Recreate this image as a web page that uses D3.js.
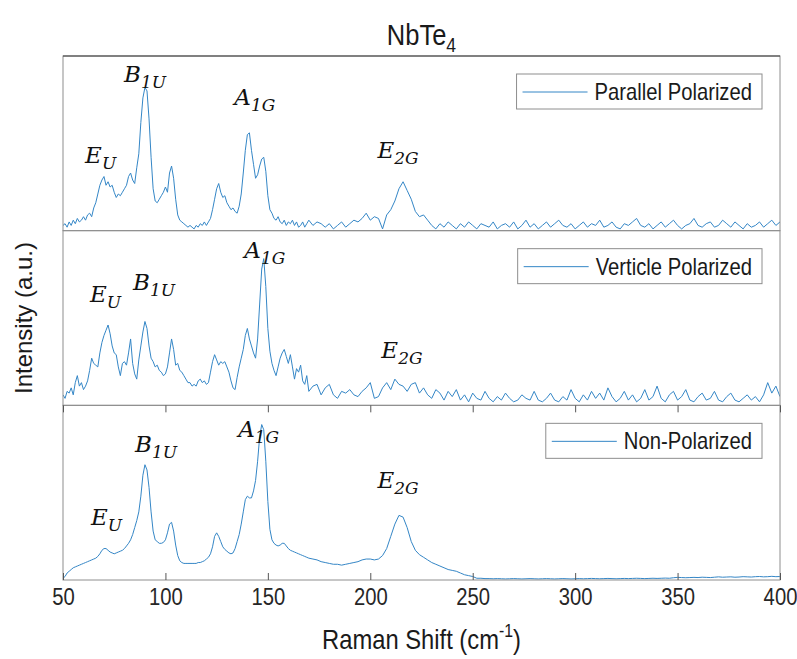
<!DOCTYPE html>
<html>
<head>
<meta charset="utf-8">
<script src="https://cdn.jsdelivr.net/npm/d3@7"></script>
<style>
  html, body { margin: 0; padding: 0; background: #ffffff; }
  svg { display: block; }
</style>
</head>
<body>
<svg id="chart" width="797" height="659"></svg>
<script>
// ---------------- DATA ----------------
const title = "NbTe";
const titleSub = "4";
const xLabel = "Raman Shift (cm";
const xLabelSup = "-1";
const yLabel = "Intensity (a.u.)";
const seriesNames = ["Parallel Polarized", "Verticle Polarized", "Non-Polarized"];
const xTicks = [50, 100, 150, 200, 250, 300, 350, 400];

// Raman shift sample positions (cm^-1)
const shift = [
  50,51,52,53,54,55,56,57,58,59,
  60,61,62,63,64,65,66,67,68,69,
  70,71,72,73,74,75,76,77,78,79,
  80,81,82,83,84,85,86,87,88,89,
  90,91,92,93,94,95,96,97,98,99,
  100,101,102,103,104,105,106,107,108,109,
  110,111,112,113,114,115,116,117,118,119,
  120,121,122,123,124,125,126,127,128,129,
  130,131,132,133,134,135,136,137,138,139,
  140,141,142,143,144,145,146,147,148,149,
  150,151,152,153,154,155,156,157,158,159,
  160,161,162,163,164,165,166,167,168,169,
  170,
  172,174,176,178,180,182,184,186,188,190,
  192,194,196,198,200,202,204,206,208,210,
  212,214,216,218,220,222,224,226,228,230,
  232,234,236,238,240,242,244,246,248,250,
  252,254,256,258,260,262,264,266,268,270,
  272,274,276,278,280,282,284,286,288,290,
  292,294,296,298,300,302,304,306,308,310,
  312,314,316,318,320,322,324,326,328,330,
  332,334,336,338,340,342,344,346,348,350,
  352,354,356,358,360,362,364,366,368,370,
  372,374,376,378,380,382,384,386,388,390,
  392,394,396,398,400
];

// Normalised intensity (% of panel height)
const parallel = [
  3,4,2,5,3,6,4,7,5,6,
  8,6,9,10,8,13,16,21,26,29,
  31,26,28,25,26,22,19,21,20,22,
  24,26,31,33,29,27,36,44,62,76,
  82,80,64,42,24,17,16,18,20,22,
  25,22,33,37,30,18,9,6,5,4,
  3,2,3,2,1,3,2,4,3,5,
  3,5,7,12,18,24,27,22,19,20,
  16,14,12,13,11,10,14,21,33,46,
  55,56,46,38,30,32,37,41,42,34,
  20,12,10,7,6,8,5,4,6,3,
  5,4,6,3,5,2,3,5,2,4,
  6,
  3,5,4,2,4,1,3,5,2,4,
  6,5,7,10,6,8,7,1,9,12,
  17,24,28,23,18,11,8,9,6,3,
  1,4,2,5,3,1,4,2,5,3,
  1,4,3,2,5,1,3,4,2,5,
  1,3,6,2,4,1,3,5,2,4,
  6,3,2,4,1,3,5,2,4,3,
  6,2,3,5,2,1,4,3,5,7,
  3,2,4,1,3,5,2,4,6,3,
  1,3,4,7,3,2,4,5,2,3,
  6,4,2,5,3,1,4,2,3,5,
  2,4,6,3,5
];

const verticle = [
  6,4,8,7,10,6,13,17,11,13,
  9,11,14,20,27,24,23,22,30,36,
  40,43,46,41,34,30,29,22,17,24,
  25,23,30,38,24,18,15,26,34,42,
  48,44,34,27,25,22,23,20,19,17,
  18,22,30,38,32,23,24,20,19,17,
  15,13,13,11,12,11,14,15,13,14,
  12,13,19,25,29,26,23,25,24,25,
  22,19,14,10,9,16,22,27,32,40,
  44,38,34,30,27,38,58,78,84,68,
  44,31,24,20,17,22,27,30,32,28,
  24,29,22,15,21,19,23,14,12,17,
  8,
  11,12,6,10,12,6,4,8,7,9,
  6,5,8,10,13,4,5,10,13,9,
  15,12,11,8,12,13,7,10,6,4,
  9,7,3,8,5,9,3,6,2,7,
  4,3,8,4,2,5,3,7,4,2,
  3,6,4,3,8,3,2,4,7,3,
  2,5,3,9,4,2,6,3,8,4,
  7,3,10,5,2,4,8,3,6,2,
  4,9,3,5,11,4,2,6,8,3,
  5,9,3,2,5,7,3,4,8,3,
  2,5,7,3,2,4,6,3,5,2,
  6,13,7,11,5
];

const nonPolarized = [
  1,2,4,5,6,7,7.5,8,8.5,9,
  9.5,10,10.5,11,11.5,12,12.5,13.5,15,17,
  18,18,17,16,15.5,15,15.5,16,16.5,17,
  18,19.5,21,23,26,30,34,39,48,60,
  66,63,53,39,28,23,22,21,21,21.5,
  23,27,32,33,28,20,14,11,10,9.5,
  9.5,9.5,9.5,9.5,9.5,9.5,10,10,10.5,11,
  12,13,15,19,25,27,25,22,19,17.5,
  16.5,15.5,15,15.5,18,22,26,32,39,46,
  48,47,47,51,57,68,82,89,86,68,
  45,29,23,21,20,19.5,20,21,21,19.5,
  18,17,16.5,16,15.5,15,14.5,14,13.5,13,
  12.5,
  12,11.5,10.5,10,9.5,9,9,8.5,9,9.5,
  10,10.5,11.5,12,12,11.5,12,14,18,25,
  32,37,36,30,22,17,14.5,13,11.5,10,
  9,8,7,6,5.5,5,4,3,2.5,2,
  1,1,0.8,0.8,0.7,0.8,0.7,0.6,0.7,0.8,
  0.7,0.6,0.7,0.8,0.7,0.6,0.7,0.8,0.7,0.6,
  0.7,0.8,0.7,0.6,0.7,0.8,0.7,0.8,0.9,0.8,
  0.7,0.8,0.9,0.8,0.7,0.8,0.9,0.8,0.9,1.0,
  0.9,0.8,0.9,1.0,0.9,1.0,1.1,1.0,1.3,1.5,
  1.4,1.3,1.4,1.5,1.4,1.6,1.5,1.4,1.6,1.8,
  1.6,1.7,1.8,1.6,1.7,1.9,1.8,1.7,1.9,2.0,
  1.8,1.9,2.1,1.9,2.0
];

// Peak-mode labels: [main letter, subscript, shift, level %]
const parallelPeaks = [["E","U",60.8,38.9],["B","1U",79.8,85.1],["A","1G",133.6,72],["E","2G",203.5,41.7]];
const verticlePeaks = [["E","U",63.2,59.2],["B","1U",84.2,66.1],["A","1G",138.5,84.5],["E","2G",205.4,27]];
const nonPolarizedPeaks = [["E","U",63.7,31.4],["B","1U",85.2,73.1],["A","1G",135.5,81.7],["E","2G",203.5,52.6]];

// ---------------- LAYOUT ----------------
const plotLeft = 63, plotRight = 780, plotTop = 56, plotBottom = 580;
const lineColor = "#3486c6";
const sans = "'Liberation Sans', Arial, Helvetica, sans-serif";
const serif = "'DejaVu Serif', 'Liberation Serif', serif";
const squeeze = 0.88;

const svg = d3.select("#chart");

const x = d3.scaleLinear().domain([50, 400]).range([plotLeft, plotRight]);
const band = d3.scaleBand().domain(seriesNames).range([plotTop, plotBottom]).paddingInner(0).paddingOuter(0);

const panels = [
  { name: seriesNames[0], values: parallel, peaks: parallelPeaks },
  { name: seriesNames[1], values: verticle, peaks: verticlePeaks },
  { name: seriesNames[2], values: nonPolarized, peaks: nonPolarizedPeaks }
];

panels.forEach((p, i) => {
  const y0 = band(p.name), h = band.bandwidth();
  const y = d3.scaleLinear().domain([0, 100]).range([y0 + h, y0]);
  const g = svg.append("g");

  const clipId = "clip" + i;
  svg.append("clipPath").attr("id", clipId)
    .append("rect").attr("x", plotLeft).attr("y", y0).attr("width", plotRight - plotLeft).attr("height", h);

  const line = d3.line().x((d, k) => x(shift[k])).y(d => y(d));
  g.append("path")
    .datum(p.values)
    .attr("clip-path", `url(#${clipId})`)
    .attr("fill", "none")
    .attr("stroke", lineColor)
    .attr("stroke-width", 1)
    .attr("stroke-linejoin", "round")
    .attr("d", line);

  // peak labels
  p.peaks.forEach(pk => {
    const t = g.append("text")
      .attr("x", x(pk[2])).attr("y", y(pk[3]))
      .attr("font-family", serif).attr("font-style", "italic")
      .attr("font-size", 23).attr("fill", "#111");
    t.append("tspan").text(pk[0]);
    t.append("tspan").attr("font-size", 17).attr("dy", 6).text(pk[1]);
  });

  // frame
  g.append("rect")
    .attr("x", plotLeft).attr("y", y0).attr("width", plotRight - plotLeft).attr("height", h)
    .attr("fill", "none").attr("stroke", "#8e8e8e").attr("stroke-width", 1);

  // legend
  const lg = g.append("g");
  const boxTop = y0 + 18, boxH = 35, boxRight = 762;
  const txt = lg.append("text")
    .attr("font-family", sans).attr("font-size", 23).attr("fill", "#1a1a1a")
    .attr("text-anchor", "end")
    .attr("transform", `translate(${boxRight - 10},${boxTop + 26}) scale(${squeeze},1)`)
    .text(p.name);
  const tw = txt.node().getComputedTextLength() * squeeze;
  const lineEnd = boxRight - 10 - tw - 7;
  const lineStart = lineEnd - 65;
  lg.insert("rect", "text")
    .attr("x", lineStart - 6).attr("y", boxTop).attr("width", boxRight - (lineStart - 6)).attr("height", boxH)
    .attr("fill", "#fff").attr("stroke", "#8e8e8e").attr("stroke-width", 1);
  lg.append("line")
    .attr("x1", lineStart).attr("x2", lineEnd)
    .attr("y1", boxTop + 18).attr("y2", boxTop + 18)
    .attr("stroke", lineColor).attr("stroke-width", 1);
});

// top frame line darker
svg.append("line").attr("x1", plotLeft).attr("x2", plotRight).attr("y1", plotTop).attr("y2", plotTop)
  .attr("stroke", "#3a3a3a").attr("stroke-width", 1);

// x axis (bottom panel)
const axB = svg.append("g").attr("transform", `translate(0,${plotBottom})`)
  .call(d3.axisBottom(x).tickValues(xTicks).tickSizeInner(-7).tickSizeOuter(0).tickPadding(9).tickFormat(d3.format("d")));
axB.select(".domain").remove();
axB.selectAll("line").attr("stroke", "#555");
axB.selectAll("text")
  .attr("font-family", sans).attr("font-size", 23).attr("fill", "#262626")
  .attr("transform", `scale(${squeeze},1)`);

const botTop = band(seriesNames[2]);
const axT = svg.append("g").attr("transform", `translate(0,${botTop})`)
  .call(d3.axisTop(x).tickValues(xTicks).tickSizeInner(-7).tickSizeOuter(0).tickFormat(""));
axT.select(".domain").remove();
axT.selectAll("line").attr("stroke", "#555");

// title
const tt = svg.append("text")
  .attr("font-family", sans).attr("font-size", 29).attr("fill", "#1a1a1a")
  .attr("text-anchor", "middle")
  .attr("transform", `translate(${(plotLeft + plotRight) / 2},45) scale(${squeeze},1)`);
tt.append("tspan").text(title);
tt.append("tspan").attr("font-size", 20).attr("dy", 7).text(titleSub);

// x label
const xl = svg.append("text")
  .attr("font-family", sans).attr("font-size", 27).attr("fill", "#1a1a1a")
  .attr("text-anchor", "middle")
  .attr("transform", `translate(${(plotLeft + plotRight) / 2},649) scale(${squeeze},1)`);
xl.append("tspan").text(xLabel);
xl.append("tspan").attr("font-size", 18).attr("dy", -12).text(xLabelSup);
xl.append("tspan").attr("dy", 12).text(")");

// y label
svg.append("text")
  .attr("font-family", sans).attr("font-size", 24).attr("fill", "#1a1a1a")
  .attr("text-anchor", "middle")
  .attr("transform", `translate(32,${(plotTop + plotBottom) / 2}) rotate(-90)`)
  .text(yLabel);
</script>
</body>
</html>
